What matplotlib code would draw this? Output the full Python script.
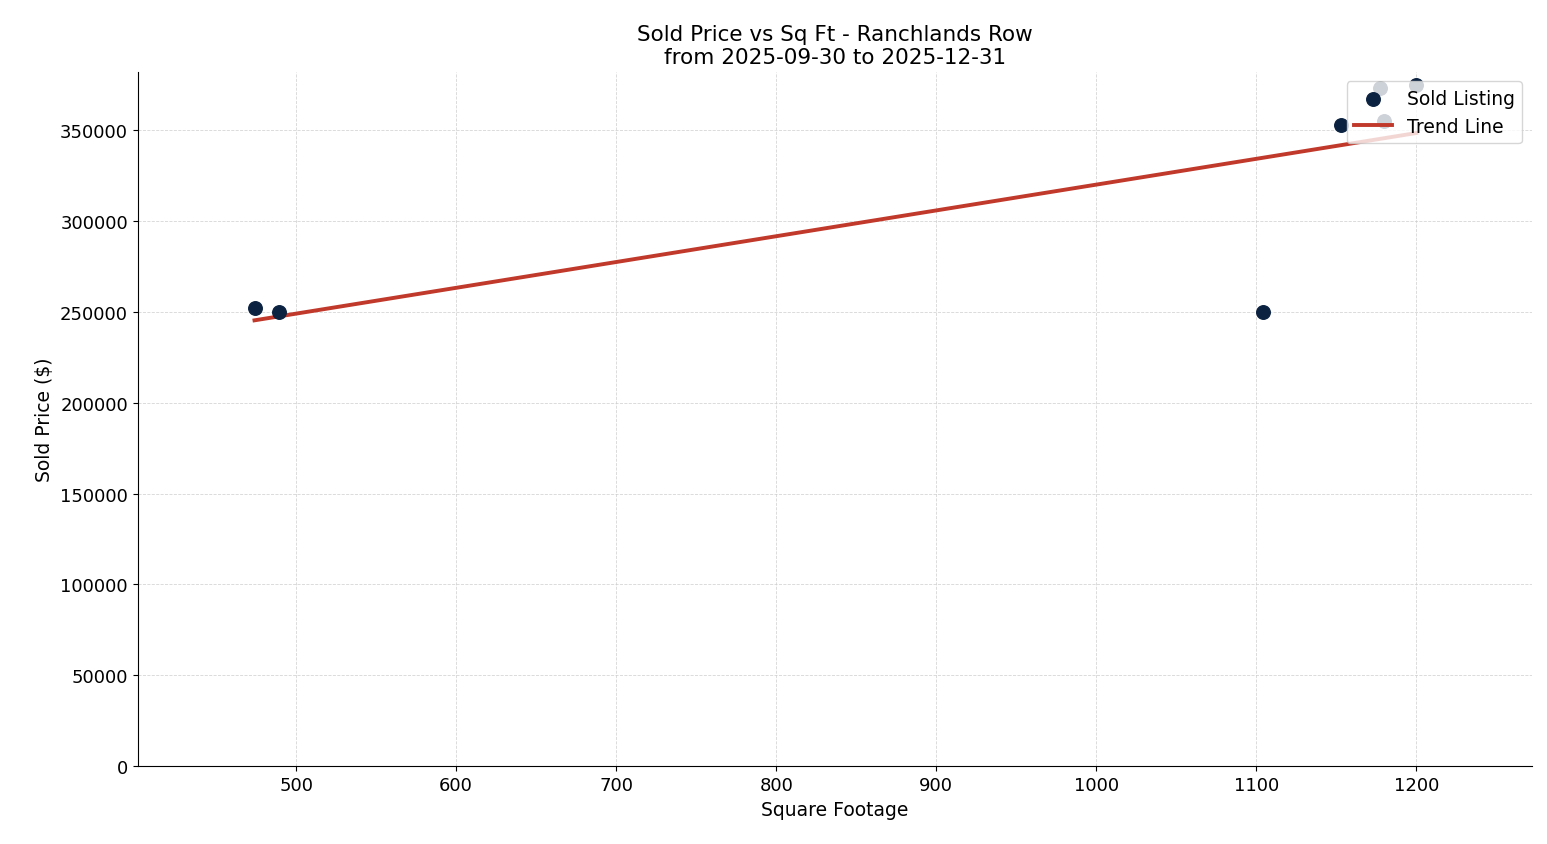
import matplotlib.pyplot as plt
import numpy as np

sqft = [474, 489, 1104, 1153, 1177, 1180, 1200]
price = [252000, 250000, 249900, 352700, 373100, 355000, 374800]

x = np.array(sqft)
y = np.array(price)

fig, ax = plt.subplots(figsize=(15.47, 8.45), dpi=100)
ax.scatter(x, y, s=95, color="#0b2240", zorder=3, label="Sold Listing")
m, b = np.polyfit(x, y, 1)
xs = np.array([x.min(), x.max()])
ax.plot(xs, m * xs + b, color="#c0392b", linewidth=2.8, label="Trend Line", zorder=2)

ax.set_xlim(401, 1272)
ax.set_ylim(0, 382000)
ax.set_xticks(range(500, 1201, 100))
ax.set_yticks(range(0, 350001, 50000))
ax.ticklabel_format(style="plain", axis="y")
ax.grid(True, linestyle="--", linewidth=0.6, color="#cccccc", alpha=0.8)
ax.set_axisbelow(True)
ax.spines["top"].set_visible(False)
ax.spines["right"].set_visible(False)
ax.set_xlabel("Square Footage", fontsize=13.5)
ax.set_ylabel("Sold Price ($)", fontsize=13.5)
ax.set_title("Sold Price vs Sq Ft - Ranchlands Row\nfrom 2025-09-30 to 2025-12-31", fontsize=15.5)
ax.tick_params(labelsize=13)
ax.legend(loc="upper right", fontsize=13.5)

plt.subplots_adjust(left=0.089, right=0.99, top=0.914, bottom=0.092)
plt.savefig("out.png")
